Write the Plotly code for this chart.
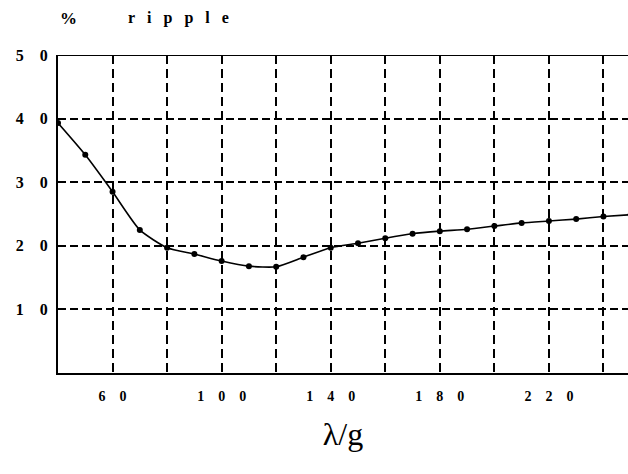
import plotly.graph_objects as go

x_vals = [40, 50, 60, 70, 80, 90, 100, 110, 120, 130, 140, 150, 160, 170, 180, 190, 200, 210, 220, 230, 240, 250]
ripple = [39.3, 34.3, 28.5, 22.5, 19.7, 18.7, 17.6, 16.8, 16.7, 18.2, 19.7, 20.4, 21.2, 21.9, 22.3, 22.6, 23.1, 23.6, 23.9, 24.2, 24.6, 24.9]

S = "\u2003"
x_tickvals = [60, 80, 100, 120, 140, 160, 180, 200, 220, 240]
x_ticktext = ["<b>6" + S + "0</b>", "", "<b>1" + S + "0" + S + "0</b>", "", "<b>1" + S + "4" + S + "0</b>", "",
              "<b>1" + S + "8" + S + "0</b>", "", "<b>2" + S + "2" + S + "0</b>", ""]
y_tickvals = [0, 10, 20, 30, 40, 50]
y_ticktext = ["", "<b>1" + S + "0</b>", "<b>2" + S + "0</b>", "<b>3" + S + "0</b>", "<b>4" + S + "0</b>", "<b>5" + S + "0</b>"]

fig = go.Figure()
fig.add_trace(go.Scatter(
    x=x_vals, y=ripple, mode="lines+markers",
    line=dict(color="black", width=1.6, shape="spline", smoothing=0.6),
    marker=dict(color="black", size=6),
    cliponaxis=True, showlegend=False,
))

font_y = dict(family="Liberation Serif", size=16, color="black")
font_x = dict(family="Liberation Serif", size=14, color="black")

fig.update_layout(
    width=628, height=474,
    margin=dict(l=58, r=0, t=55, b=101),
    paper_bgcolor="white", plot_bgcolor="white",
    xaxis=dict(
        range=[40, 249], tickvals=x_tickvals, ticktext=x_ticktext,
        showgrid=True, gridcolor="black", griddash="9px,5px", gridwidth=1.5,
        showline=True, linecolor="black", linewidth=2, mirror=False,
        ticks="", tickfont=font_x, ticklabelstandoff=9, zeroline=False,
        title=dict(text="λ/g", font=dict(family="Liberation Serif", size=32, color="black"), standoff=20),
    ),
    yaxis=dict(
        range=[0, 50], tickvals=y_tickvals, ticktext=y_ticktext,
        showgrid=True, gridcolor="black", griddash="8px,4px", gridwidth=1.5,
        showline=True, linecolor="black", linewidth=2,
        ticks="", tickfont=font_y, ticklabelstandoff=5, zeroline=False,
    ),
    shapes=[dict(type="line", xref="paper", yref="y", x0=0, x1=1, y0=50, y1=50,
                 line=dict(color="black", width=2))],
    annotations=[
        dict(text="<b>%</b>", xref="paper", yref="paper", x=0.0, y=1.0, xanchor="center", yanchor="middle",
             xshift=10, yshift=37, showarrow=False, font=dict(family="Liberation Serif", size=17, color="black")),
        dict(text="<b>" + "\u2002\u2005".join("ripple") + "</b>", xref="paper", yref="paper", x=0.0, y=1.0,
             xanchor="left", yanchor="middle", xshift=68, yshift=37, showarrow=False,
             font=dict(family="Liberation Serif", size=16, color="black")),
    ],
)

fig.write_html("out.html", config={"displayModeBar": False},
               post_script="document.body.style.margin='0';")
